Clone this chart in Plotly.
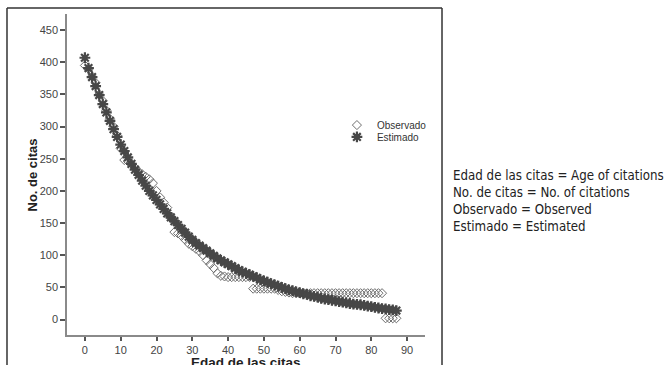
import plotly.graph_objects as go

edad = list(range(0, 88))

observado = [395, 390, 378, 368, 350, 340, 325, 312, 300, 286,
             266, 248, 246, 242, 236, 230, 226, 222, 218, 212,
             200, 190, 182, 174, 160, 136, 134, 130, 124, 118,
             114, 110, 106, 100, 92, 86, 80, 72, 68, 67,
             66, 66, 66, 66, 66, 66, 66, 48, 48, 48,
             48, 48, 48, 48, 46, 44, 43, 42, 41, 41,
             41, 41, 41, 41, 41, 41, 41, 41, 41, 41,
             41, 41, 41, 41, 41, 41, 41, 41, 41, 41,
             41, 41, 41, 41, 2, 2, 2, 2]

estimado = [407, 391, 377, 363, 349, 335, 322, 309, 296, 284,
            272, 262, 252, 242, 233, 225, 216, 208, 200, 193,
            186, 179, 172, 165, 159, 153, 147, 141, 135, 129,
            124, 119, 115, 111, 107, 103, 99, 95, 92, 89,
            86, 83, 80, 77, 74, 72, 70, 67, 65, 62,
            60, 58, 56, 54, 52, 50, 48, 46, 45, 43,
            42, 40, 39, 37, 36, 35, 33, 32, 31, 30,
            29, 28, 27, 26, 25, 24, 23.5, 23, 22, 21,
            20, 19, 18, 17, 16.5, 15.5, 15, 14]

x_ticks = list(range(0, 100, 10))
y_ticks = list(range(0, 500, 50))

notas = ["Edad de las citas = Age of citations",
         "No. de citas = No. of citations",
         "Observado = Observed",
         "Estimado = Estimated"]

fig = go.Figure()
fig.add_trace(go.Scatter(
    x=edad, y=observado, mode="markers", name="Observado", legend="legend",
    marker=dict(symbol="diamond-open", size=7, color="#6e6e6e",
                line=dict(width=1, color="#6e6e6e")),
))
fig.add_trace(go.Scatter(
    x=edad, y=estimado, mode="markers", name="Estimado", legend="legend2",
    marker=dict(symbol="asterisk-open", size=9, color="#474747",
                line=dict(width=2.2, color="#474747")),
))

base = "Liberation Sans, Arial, sans-serif"
axis_font = dict(family=base, size=11, color="#444444")
leg_font = dict(family=base, size=10, color="#333333")

fig.update_layout(
    width=671, height=365,
    margin=dict(l=67, r=246, t=14, b=30),
    paper_bgcolor="white", plot_bgcolor="white",
    showlegend=True,
    legend=dict(x=0.754, y=0.654, xanchor="left", yanchor="middle",
                font=leg_font, bgcolor="rgba(0,0,0,0)"),
    legend2=dict(x=0.754, y=0.617, xanchor="left", yanchor="middle",
                 font=leg_font, bgcolor="rgba(0,0,0,0)"),
    xaxis=dict(range=[-5, 95], tickvals=x_ticks, showgrid=False, zeroline=False,
               showline=True, linecolor="#8a8a8a", linewidth=1.5, automargin=False,
               ticks="outside", ticklen=4, tickcolor="#555555", tickwidth=1.5,
               tickfont=axis_font),
    yaxis=dict(range=[-24, 475], tickvals=y_ticks, showgrid=False, zeroline=False,
               showline=True, linecolor="#8a8a8a", linewidth=1.5, automargin=False,
               ticks="outside", ticklen=5, tickcolor="#555555", tickwidth=1.5,
               tickfont=axis_font),
    shapes=[
        dict(type="line", xref="paper", yref="paper", x0=-0.1676, x1=-0.1676, y0=1.0187, y1=-0.2,
             line=dict(color="#333333", width=1.5)),
        dict(type="line", xref="paper", yref="paper", x0=-0.1676, x1=1.0475, y0=1.0187, y1=1.0187,
             line=dict(color="#333333", width=1.5)),
        dict(type="line", xref="paper", yref="paper", x0=1.0475, x1=1.0475, y0=1.0187, y1=-0.2,
             line=dict(color="#333333", width=1.5)),
    ],
    annotations=[
        dict(xref="paper", yref="paper", x=0.5, y=-0.086, xanchor="center", yanchor="middle",
             text="<b>Edad de las citas</b>", showarrow=False,
             font=dict(family=base, size=13.5, color="#222222")),
        dict(xref="paper", yref="paper", x=-0.095, y=0.5, xanchor="center", yanchor="middle",
             text="<b>No. de citas</b>", showarrow=False, textangle=-90,
             font=dict(family=base, size=13, color="#222222")),
        dict(xref="paper", yref="paper", x=1.072, y=0.419, xanchor="left", yanchor="middle",
             text="<br>".join(notas), showarrow=False, align="left",
             font=dict(family="DejaVu Sans Condensed, Liberation Sans Narrow, sans-serif",
                       size=13.2, color="#222222")),
    ],
)

fig.write_html("out.html", config={"displayModeBar": False},
               post_script="document.body.style.margin='0';")
